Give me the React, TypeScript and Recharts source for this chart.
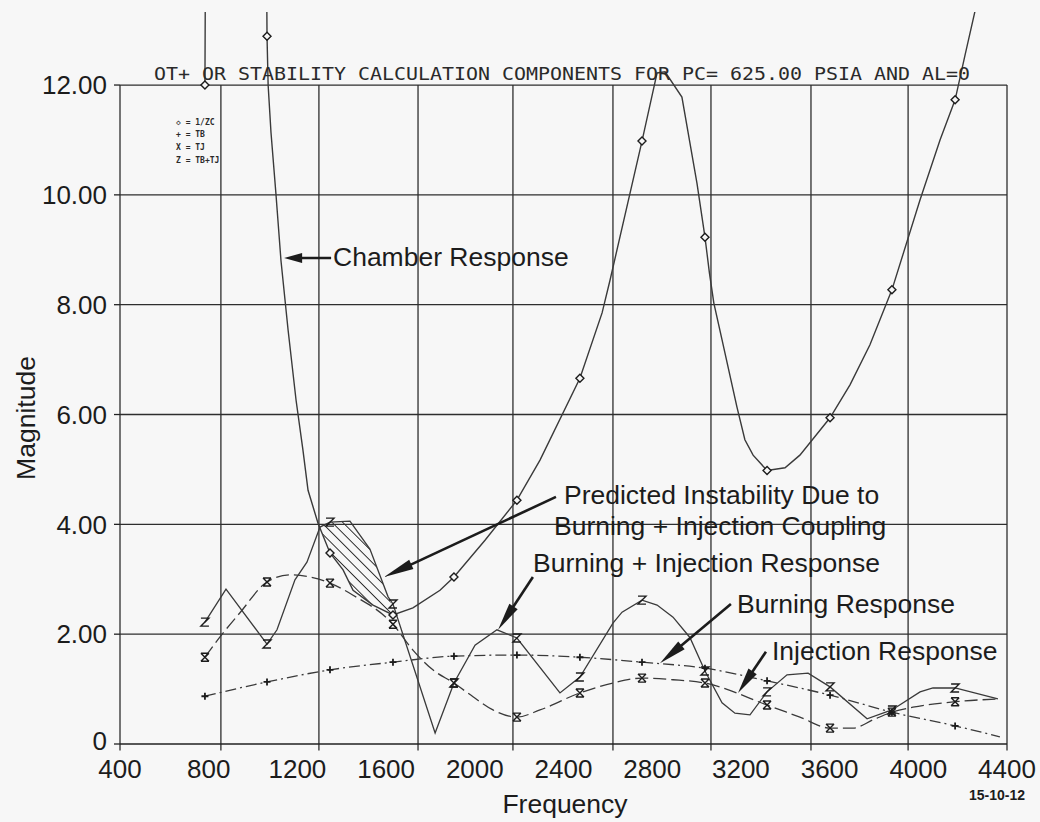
import React from "react";
import {
  ComposedChart,
  Line,
  Area,
  XAxis,
  YAxis,
  ReferenceLine,
} from "recharts";

// printed axis labels
const freqTicks = [400, 800, 1200, 1600, 2000, 2400, 2800, 3200, 3600, 4000, 4400];
const magTicks = [0, 2, 4, 6, 8, 10, 12];
// the plotter's own grid does not line up with the printed labels
const gridFreqs = [400, 855, 1297, 1744, 2172, 2623, 3065, 3516, 3954, 4400];
// frequencies where the plotter drew a symbol
const markerFreqs = [783, 1063, 1347, 1631, 1906, 2190, 2474, 2754, 3038, 3318, 3602, 3881, 4166];

// 1/ZC - chamber response (goes off the top between the first two symbols)
const chamber: [number, number][] = [
  [783, 12.0], [787, 16], [1058, 16], [1063, 12.89], [1068, 12.0], [1081, 11.13],
  [1103, 10.03], [1126, 8.8], [1158, 7.54], [1194, 6.26], [1225, 5.35], [1248, 4.62],
  [1293, 4.02], [1347, 3.48], [1406, 3.17], [1451, 2.8], [1541, 2.53], [1631, 2.35],
  [1721, 2.48], [1843, 2.8], [1906, 3.04], [2046, 3.71], [2190, 4.44], [2294, 5.17],
  [2474, 6.66], [2574, 7.85], [2610, 8.45], [2754, 10.98], [2822, 12.22], [2858, 12.24],
  [2934, 11.78], [3002, 10.21], [3038, 9.23], [3058, 8.58], [3078, 8.03], [3115, 7.36],
  [3182, 6.14], [3218, 5.54], [3255, 5.26], [3318, 4.98], [3399, 5.03], [3466, 5.26],
  [3602, 5.94], [3692, 6.54], [3782, 7.27], [3881, 8.27], [4008, 9.91], [4098, 11.0],
  [4166, 11.73], [4211, 12.55], [4270, 13.6],
];

// TB - burning response
const burning: [number, number][] = [
  [783, 0.87], [1063, 1.13], [1347, 1.35], [1631, 1.49], [1906, 1.6], [2190, 1.62],
  [2474, 1.58], [2754, 1.49], [3038, 1.38], [3318, 1.15], [3602, 0.89], [3881, 0.58],
  [4166, 0.33], [4368, 0.13],
];

// TJ - injection response
const injection: [number, number][] = [
  [783, 1.58], [851, 1.95], [941, 2.39], [1063, 2.95], [1167, 3.08], [1257, 3.04],
  [1347, 2.93], [1451, 2.71], [1631, 2.18], [1721, 1.71], [1811, 1.35], [1906, 1.11],
  [1992, 0.86], [2082, 0.62], [2190, 0.49], [2294, 0.62], [2474, 0.93], [2623, 1.11],
  [2754, 1.2], [2894, 1.17], [3038, 1.11], [3318, 0.71], [3466, 0.49], [3602, 0.29],
  [3706, 0.29], [3796, 0.44], [3881, 0.58], [3976, 0.67], [4166, 0.77], [4359, 0.82],
];

// Z = TB+TJ - burning + injection response
const combined: [number, number][] = [
  [783, 2.22], [878, 2.82], [1063, 1.82], [1108, 2.08], [1189, 2.99], [1243, 3.31],
  [1302, 3.95], [1347, 4.04], [1437, 4.06], [1527, 3.55], [1609, 2.68], [1631, 2.55],
  [1821, 0.2], [1906, 1.11], [2001, 1.8], [2100, 2.08], [2190, 1.93], [2384, 0.93],
  [2474, 1.22], [2623, 2.2], [2664, 2.4], [2754, 2.62], [2822, 2.53], [2894, 2.31],
  [2970, 1.94], [3038, 1.33], [3115, 0.75], [3173, 0.56], [3241, 0.53], [3318, 0.95],
  [3408, 1.26], [3503, 1.29], [3602, 1.04], [3769, 0.46], [3881, 0.62], [4008, 0.95],
  [4066, 1.02], [4166, 1.02], [4359, 0.82],
];

// hatched band where Z sits above 1/ZC
const hatchFreq = [1300, 1347, 1406, 1451, 1482, 1527, 1573, 1609, 1645];
const hatchLow = [3.97, 3.48, 3.17, 2.8, 2.68, 2.58, 2.45, 2.39, 2.36];
const hatchHigh = [3.97, 4.04, 4.05, 3.99, 3.81, 3.55, 3.06, 2.68, 2.36];

// annotation arrows, tail -> tip, in chart units
const arrows = [
  { from: [1352, 8.85], to: [1140, 8.85], head: 18 },
  { from: [2366, 4.5], to: [1591, 3.04], head: 30 },
  { from: [2262, 3.04], to: [2105, 2.08], head: 28 },
  { from: [3155, 2.55], to: [2835, 1.47], head: 28 },
  { from: [3313, 1.68], to: [3187, 0.93], head: 26 },
];

const INK = "#1c1c1c";
const LINE = "#3a3a3a";
const GRID = "#2e2e2e";
const SANS = "'Liberation Sans', Arial, Helvetica, sans-serif";

const toPts = (arr: [number, number][]) =>
  arr.map(([f, v]) => ({ f, v, m: markerFreqs.includes(f) }));

const hatchData = hatchFreq.map((f, i) => ({ f, r: [hatchLow[i], hatchHigh[i]] }));

const fmtMag = (v: number) => (v === 0 ? "0" : v.toFixed(2));

// y tick labels; the "0" sits a touch high so it clears the "400" below it
const MagTick = (p: any) => {
  const v = p.payload?.value ?? 0;
  return (
    <text
      x={p.x}
      y={p.y + (v === 0 ? -3 : 0)}
      dy="0.355em"
      textAnchor="end"
      fontSize={26}
      fontFamily={SANS}
      fill={INK}
    >
      {fmtMag(v)}
    </text>
  );
};

const makeDot = (kind: string) => (props: any) => {
  const { cx, cy, payload, index } = props;
  const k = `${kind}-${index}`;
  if (!payload || !payload.m || cx == null || cy == null) return <g key={k} />;
  const s = 4;
  const common = { stroke: INK, strokeWidth: 1.4, fill: "none" };
  if (kind === "diamond")
    return (
      <path key={k} d={`M${cx},${cy - s} L${cx + s},${cy} L${cx},${cy + s} L${cx - s},${cy} Z`} {...common} fill="#f7f7f7" />
    );
  if (kind === "plus")
    return (
      <path key={k} d={`M${cx - 3.5},${cy} L${cx + 3.5},${cy} M${cx},${cy - 3.5} L${cx},${cy + 3.5}`} {...common} strokeWidth={1.8} />
    );
  if (kind === "x")
    return (
      <path
        key={k}
        d={`M${cx - s},${cy - s} L${cx + s},${cy + s} M${cx + s},${cy - s} L${cx - s},${cy + s} M${cx - s},${cy - s} L${cx + s},${cy - s} M${cx - s},${cy + s} L${cx + s},${cy + s}`}
        {...common}
      />
    );
  return (
    <path key={k} d={`M${cx - s},${cy - s} L${cx + s},${cy - s} L${cx - s},${cy + s} L${cx + s},${cy + s}`} {...common} />
  );
};

const arrowShape = (head: number) => (p: any) => {
  const { x1, y1, x2, y2 } = p;
  const dx = x2 - x1;
  const dy = y2 - y1;
  const len = Math.hypot(dx, dy) || 1;
  const ux = dx / len;
  const uy = dy / len;
  const hw = 5;
  const bx = x2 - ux * head;
  const by = y2 - uy * head;
  const pts = `${x2},${y2} ${bx - uy * hw},${by + ux * hw} ${bx + uy * hw},${by - ux * hw}`;
  return (
    <g>
      <line x1={x1} y1={y1} x2={bx + ux * 4} y2={by + uy * 4} stroke={INK} strokeWidth={2.6} />
      <polygon points={pts} fill={INK} />
    </g>
  );
};

const gridShape = (p: any) => (
  <line x1={p.x1} y1={p.y1} x2={p.x2} y2={p.y2} stroke={GRID} strokeWidth={1.3} />
);

export default function App() {
  return (
    <div
      style={{
        position: "absolute",
        left: 0,
        top: 0,
        width: 1040,
        height: 822,
        background: "#f7f7f7",
        overflow: "hidden",
      }}
    >
      <ComposedChart width={1040} height={822} margin={{ top: 12, right: 33, bottom: 38, left: 0 }}>
        <defs>
          <pattern id="hatch" width="7.5" height="7.5" patternUnits="userSpaceOnUse" patternTransform="rotate(-45)">
            <line x1="0" y1="0" x2="0" y2="7.5" stroke={INK} strokeWidth={1.8} />
          </pattern>
        </defs>

        <XAxis
          type="number"
          dataKey="f"
          domain={[400, 4400]}
          ticks={freqTicks}
          interval={0}
          tickLine={false}
          tickSize={6}
          tickMargin={10}
          height={40}
          axisLine={{ stroke: "#222", strokeWidth: 1.5 }}
          tick={{ fontSize: 26, fill: INK, fontFamily: SANS }}
        />
        <YAxis
          type="number"
          domain={[0, 13.33]}
          ticks={magTicks}
          allowDataOverflow
          width={120}
          axisLine={false}
          tickSize={6}
          tickMargin={7}
          tickLine={{ stroke: "#222", strokeWidth: 1.3 }}
          tick={MagTick}
        />

        {/* horizontal grid on the magnitude ticks, stopping at the 12.00 frame */}
        {magTicks
          .filter((v) => v > 0)
          .map((v) => (
            <ReferenceLine
              key={`h${v}`}
              segment={[
                { x: 400, y: v },
                { x: 4400, y: v },
              ]}
              ifOverflow="visible"
              shape={gridShape}
            />
          ))}

        {/* vertical grid of the original plotter, with short ticks under the axis */}
        {gridFreqs.map((f) => (
          <ReferenceLine
            key={`g${f}`}
            segment={[
              { x: f, y: -0.12 },
              { x: f, y: 12 },
            ]}
            ifOverflow="visible"
            shape={gridShape}
          />
        ))}

        <Area
          data={hatchData}
          dataKey="r"
          type="linear"
          stroke="none"
          fill="url(#hatch)"
          fillOpacity={1}
          dot={false}
          activeDot={false}
          isAnimationActive={false}
        />

        <Line
          data={toPts(chamber)}
          dataKey="v"
          type="linear"
          stroke={LINE}
          strokeWidth={1.4}
          dot={makeDot("diamond")}
          activeDot={false}
          isAnimationActive={false}
        />
        <Line
          data={toPts(burning)}
          dataKey="v"
          type="monotone"
          stroke={LINE}
          strokeWidth={1.3}
          strokeDasharray="11 4 2 4"
          dot={makeDot("plus")}
          activeDot={false}
          isAnimationActive={false}
        />
        <Line
          data={toPts(injection)}
          dataKey="v"
          type="monotone"
          stroke={LINE}
          strokeWidth={1.3}
          strokeDasharray="13 5"
          dot={makeDot("x")}
          activeDot={false}
          isAnimationActive={false}
        />
        <Line
          data={toPts(combined)}
          dataKey="v"
          type="linear"
          stroke={LINE}
          strokeWidth={1.3}
          dot={makeDot("z")}
          activeDot={false}
          isAnimationActive={false}
        />

        {arrows.map((a, i) => (
          <ReferenceLine
            key={`a${i}`}
            segment={[
              { x: a.from[0], y: a.from[1] },
              { x: a.to[0], y: a.to[1] },
            ]}
            ifOverflow="visible"
            shape={arrowShape(a.head)}
          />
        ))}
      </ComposedChart>

      <svg
        width={1040}
        height={822}
        style={{ position: "absolute", left: 0, top: 0, pointerEvents: "none" }}
      >
        <text
          x={154}
          y={80}
          textLength={816}
          lengthAdjust="spacingAndGlyphs"
          fontFamily="'DejaVu Sans Mono', monospace"
          fontSize={17}
          fill="#2a2a2a"
        >
          OT+ OR STABILITY CALCULATION COMPONENTS FOR PC= 625.00 PSIA AND AL=0
        </text>

        <g fontFamily="'DejaVu Sans Mono', monospace" fontSize={8} fontWeight="bold" fill="#2a2a2a">
          <text x={176} y={125}>◇ = 1/ZC</text>
          <text x={176} y={137}>+ = TB</text>
          <text x={176} y={150}>X = TJ</text>
          <text x={176} y={163}>Z = TB+TJ</text>
        </g>

        <g fontFamily={SANS} fontSize={26.5} fill={INK}>
          <text x={333} y={266}>Chamber Response</text>
          <text x={564} y={504}>Predicted Instability Due to</text>
          <text x={554} y={535}>Burning + Injection Coupling</text>
          <text x={533} y={572}>Burning + Injection Response</text>
          <text x={737} y={613}>Burning Response</text>
          <text x={772} y={660}>Injection Response</text>
          <text x={565} y={813} textAnchor="middle">Frequency</text>
          <text x={35} y={418} textAnchor="middle" transform="rotate(-90 35 418)">
            Magnitude
          </text>
        </g>

        <text x={969} y={800} fontFamily={SANS} fontSize={14} fontWeight="bold" fill={INK}>
          15-10-12
        </text>
      </svg>
    </div>
  );
}
